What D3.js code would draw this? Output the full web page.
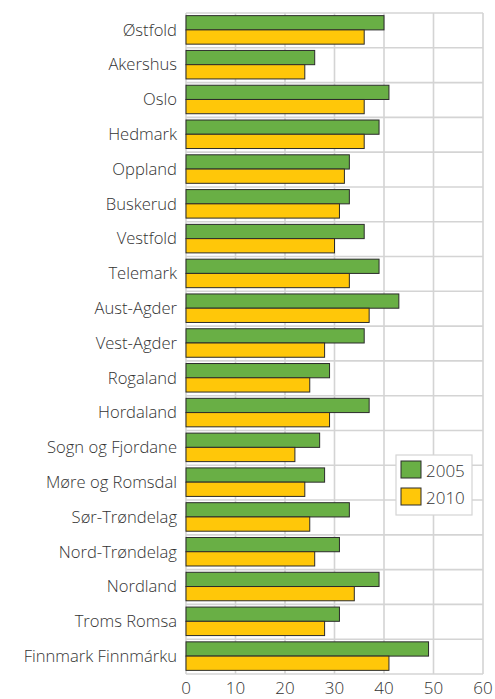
<!DOCTYPE html>
<html>
<head>
<meta charset="utf-8">
<script src="https://cdn.jsdelivr.net/npm/d3@7"></script>
<style>
  body { margin: 0; background: #fff; }
  text { font-family: "Open Sans", "Noto Sans", sans-serif; fill: #333; font-weight: 300; }
</style>
</head>
<body>
<script>
const counties = ["Østfold", "Akershus", "Oslo", "Hedmark", "Oppland", "Buskerud", "Vestfold",
  "Telemark", "Aust-Agder", "Vest-Agder", "Rogaland", "Hordaland", "Sogn og Fjordane",
  "Møre og Romsdal", "Sør-Trøndelag", "Nord-Trøndelag", "Nordland", "Troms Romsa", "Finnmark Finnmárku"];
const values2005 = [40, 26, 41, 39, 33, 33, 36, 39, 43, 36, 29, 37, 27, 28, 33, 31, 39, 31, 49];
const values2010 = [36, 24, 36, 36, 32, 31, 30, 33, 37, 28, 25, 29, 22, 24, 25, 26, 34, 28, 41];
const years = ["2005", "2010"];
const xTicks = [0, 10, 20, 30, 40, 50, 60];
const colors = ["#69af45", "#ffc709"];

const W = 495, H = 699;
const plotL = 186, plotR = 483, plotT = 13, plotB = 674;

const svg = d3.select("body").append("svg")
  .attr("width", W)
  .attr("height", H);

const x = d3.scaleLinear().domain([0, 60]).range([plotL, plotR]);
const y = d3.scaleBand().domain(counties).range([plotT, plotB]);
const inner = d3.scaleBand().domain(years).range([0, y.bandwidth()]).paddingInner(0).paddingOuter(0.22);

// grid
svg.append("g")
  .selectAll("line")
  .data(xTicks)
  .enter().append("line")
    .attr("x1", d => x(d)).attr("x2", d => x(d))
    .attr("y1", plotT).attr("y2", plotB)
    .attr("stroke", "#d4d4d4")
    .attr("stroke-width", 1.6);

svg.append("g")
  .selectAll("line")
  .data(counties.concat(["__end"]))
  .enter().append("line")
    .attr("x1", plotL).attr("x2", plotR)
    .attr("y1", (d, i) => plotT + i * y.step())
    .attr("y2", (d, i) => plotT + i * y.step())
    .attr("stroke", "#d4d4d4")
    .attr("stroke-width", 1.6);

// bars
const series = [values2005, values2010];
const rows = svg.append("g")
  .selectAll("g")
  .data(counties)
  .enter().append("g")
    .attr("transform", d => `translate(0,${y(d)})`);

rows.selectAll("rect")
  .data((d, i) => years.map((yr, k) => ({ yr: yr, v: series[k][i], k: k })))
  .enter().append("rect")
    .attr("x", x(0))
    .attr("y", d => inner(d.yr) - 0.5)
    .attr("width", d => x(d.v) - x(0))
    .attr("height", inner.bandwidth())
    .attr("fill", d => colors[d.k])
    .attr("stroke", "#2b2b2b")
    .attr("stroke-width", 1);

// category labels
svg.append("g")
  .selectAll("text")
  .data(counties)
  .enter().append("text")
    .attr("x", 177)
    .attr("y", d => y(d) + y.bandwidth() / 2 - 0.5)
    .attr("dy", "0.35em")
    .attr("text-anchor", "end")
    .style("font-size", "16.6px")
    .text(d => d);

// x tick labels
svg.append("g")
  .selectAll("text")
  .data(xTicks)
  .enter().append("text")
    .attr("x", d => x(d))
    .attr("y", 694)
    .attr("text-anchor", "middle")
    .style("font-size", "17px")
    .text(d => d);

// legend
const lg = svg.append("g").attr("transform", "translate(396,455)");
lg.append("rect")
  .attr("width", 76).attr("height", 60)
  .attr("fill", "#fff")
  .attr("stroke", "#d4d4d4")
  .attr("stroke-width", 1.2);
years.forEach((yr, k) => {
  lg.append("rect")
    .attr("x", 5).attr("y", 6 + k * 27)
    .attr("width", 20).attr("height", 17)
    .attr("fill", colors[k])
    .attr("stroke", "#2b2b2b")
    .attr("stroke-width", 1);
  lg.append("text")
    .attr("x", 30).attr("y", 22 + k * 27)
    .style("font-size", "17px")
    .text(yr);
});
</script>
</body>
</html>
